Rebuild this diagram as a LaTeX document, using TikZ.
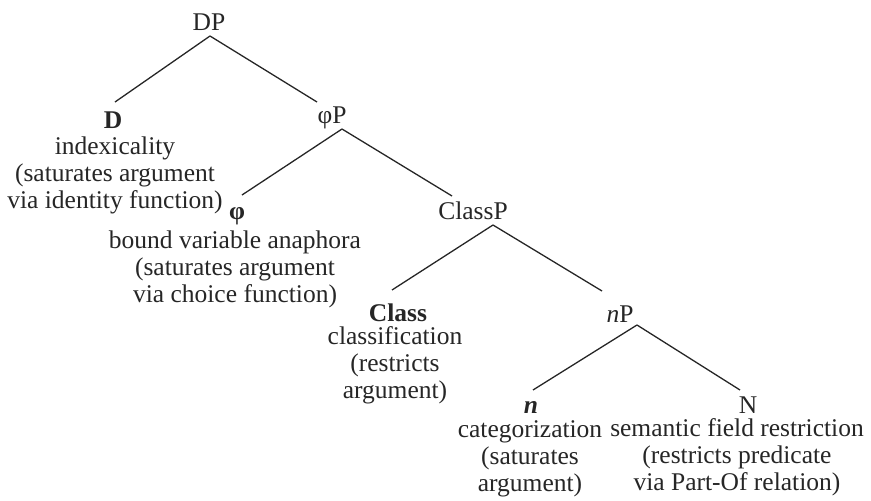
\documentclass[tikz,border=0pt]{standalone}
\usepackage{fontspec}
\setmainfont{Liberation Serif}
\begin{document}
\begin{tikzpicture}[x=1pt,y=-1pt,line width=1.3pt,draw=black!85,
  every node/.style={font=\fontsize{25.5}{27}\selectfont,text=black!85,inner sep=0pt},
  lbl/.style={anchor=base},
  desc/.style={anchor=north,align=center}]
\useasboundingbox (0,0) rectangle (871,501);
% phrases
\node[lbl] (DP) at (209,30) {DP};
\node[lbl] (phiP) at (332,123) {φP};
\node[lbl] (ClassP) at (473,219) {ClassP};
\node[lbl] (nP) at (620,322) {\textit{n}P};
% heads
\node[lbl] (D) at (113,128) {\textbf{D}};
\node[lbl] (phi) at (237,219) {\textbf{φ}};
\node[lbl] (Class) at (398,321) {\textbf{Class}};
\node[lbl] (n) at (531,413) {\textbf{\textit{n}}};
\node[lbl] (N) at (748,413) {N};
% what each head does
\node[desc] (Dtxt) at (115,135.1) {\strut indexicality\\(saturates argument\\via identity function)};
\node[desc] (phitxt) at (235,229.1) {\strut bound variable anaphora\\(saturates argument\\via choice function)};
\node[desc] (Classtxt) at (395,325.1) {\strut classification\\(restricts\\argument)};
\node[desc] (ntxt) at (530,418.1) {\strut categorization\\(saturates\\argument)};
\node[desc] (Ntxt) at (737,417.1) {\strut semantic field restriction\\(restricts predicate\\via Part-Of relation)};

\draw([shift={(1,6)}]DP.base)--([shift={(2,-26)}]D.base);
\draw([shift={(1,6)}]DP.base)--([shift={(-15,-21)}]phiP.base);
\draw([shift={(10,6)}]phiP.base)--([shift={(5,-24)}]phi.base);
\draw([shift={(10,6)}]phiP.base)--([shift={(-21,-23)}]ClassP.base);
\draw([shift={(20,6)}]ClassP.base)--([shift={(-6,-31)}]Class.base);
\draw([shift={(20,6)}]ClassP.base)--([shift={(-18,-31)}]nP.base);
\draw([shift={(17,3)}]nP.base)--([shift={(2,-23)}]n.base);
\draw([shift={(17,3)}]nP.base)--([shift={(-8,-23)}]N.base);
\end{tikzpicture}
\end{document}
